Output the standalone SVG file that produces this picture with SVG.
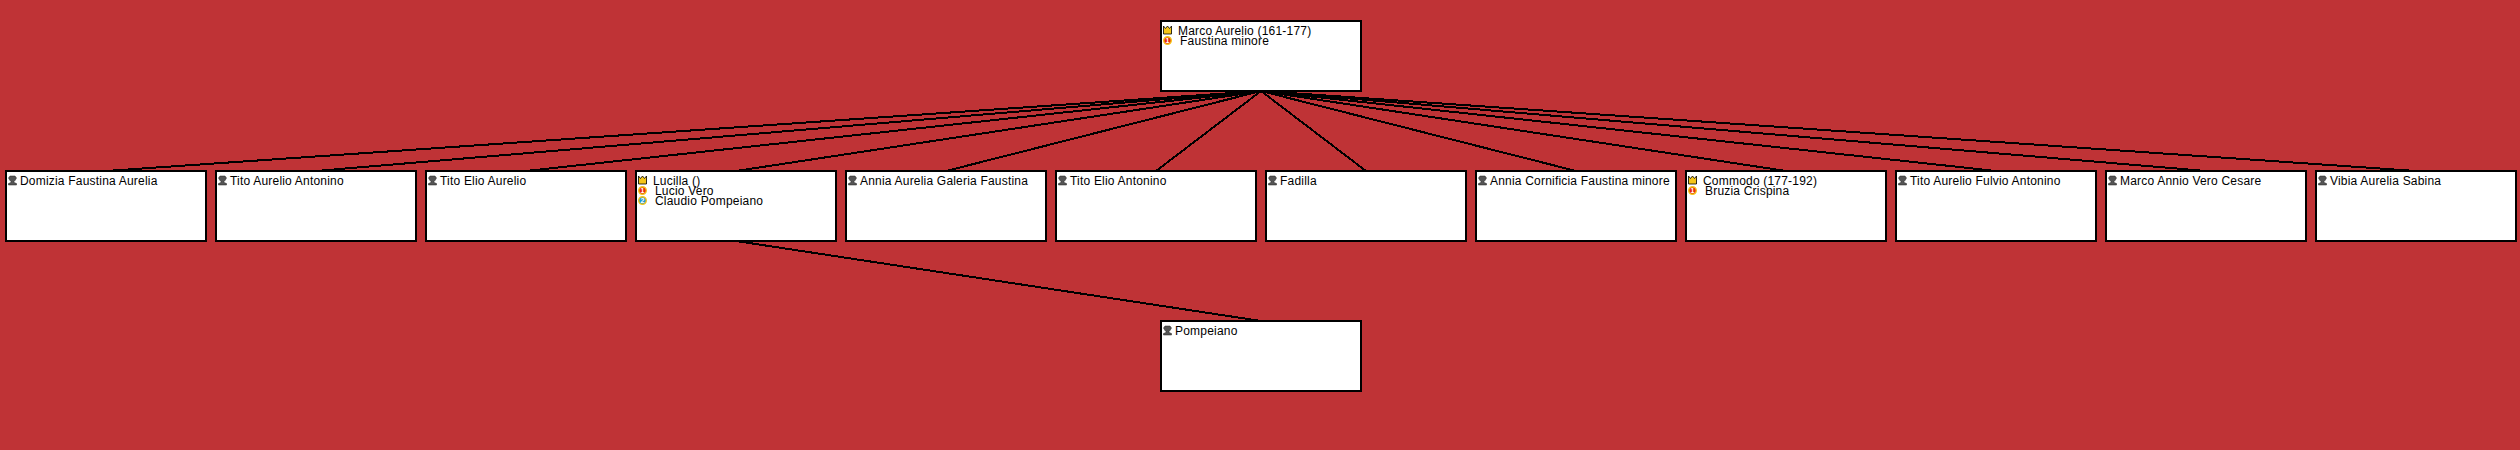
<svg xmlns="http://www.w3.org/2000/svg" xmlns:xlink="http://www.w3.org/1999/xlink" width="2520" height="450" viewBox="0 0 2520 450">
<style>
.box{fill:#fff;stroke:#000;stroke-width:2;shape-rendering:crispEdges}
.t{font-family:"Liberation Sans",Arial,sans-serif;font-size:12px;letter-spacing:.2px;fill:#000}
.n{font-family:"Liberation Sans",Arial,sans-serif;font-size:7px;font-weight:bold;fill:#fff;text-anchor:middle}
.c line{stroke:#000;stroke-width:2;shape-rendering:crispEdges}
</style>
<defs>
<g id="bust"><path d="M-2.500-4.500H2.500L4-2.500 2.500 0 1.500 1V2L4 3V4.500H-4V3L-1.500 2V1L-2.500 0-4-2.500Z" fill="#555" stroke="#222" stroke-width=".5"/></g>
<g id="crown"><path d="M-4-4-2-1.500 0-4 2-1.500 4-4V4H-4Z" fill="#f5c518" stroke="#000" stroke-width=".8"/></g>
<g id="b1"><circle r="3.800" fill="#e82a10" stroke="#f5c518" stroke-width="1.400"/></g>
<g id="b2"><circle r="3.800" fill="#1f9ad6" stroke="#f5c518" stroke-width="1.400"/></g>
</defs>
<rect width="2520" height="450" fill="#BF3336"/>
<g id="connectors" class="c">
<line x1="1261" y1="91" x2="106" y2="171"/>
<line x1="1261" y1="91" x2="316" y2="171"/>
<line x1="1261" y1="91" x2="526" y2="171"/>
<line x1="1261" y1="91" x2="736" y2="171"/>
<line x1="1261" y1="91" x2="946" y2="171"/>
<line x1="1261" y1="91" x2="1156" y2="171"/>
<line x1="1261" y1="91" x2="1366" y2="171"/>
<line x1="1261" y1="91" x2="1576" y2="171"/>
<line x1="1261" y1="91" x2="1786" y2="171"/>
<line x1="1261" y1="91" x2="1996" y2="171"/>
<line x1="1261" y1="91" x2="2206" y2="171"/>
<line x1="1261" y1="91" x2="2416" y2="171"/>
<line x1="736" y1="241" x2="1261" y2="321"/>
</g>
<g id="n0"><rect class="box" x="1161" y="21" width="200" height="70"/><use xlink:href="#crown" x="1167.500" y="30"/><text class="t" x="1178" y="35">Marco Aurelio (161-177)</text><use xlink:href="#b1" x="1167.500" y="40.500"/><text class="n" x="1167.500" y="43">1</text><text class="t" x="1180" y="45">Faustina minore</text></g>
<g id="n1"><rect class="box" x="6" y="171" width="200" height="70"/><use xlink:href="#bust" x="12.500" y="180.500"/><text class="t" x="20" y="185">Domizia Faustina Aurelia</text></g>
<g id="n2"><rect class="box" x="216" y="171" width="200" height="70"/><use xlink:href="#bust" x="222.500" y="180.500"/><text class="t" x="230" y="185">Tito Aurelio Antonino</text></g>
<g id="n3"><rect class="box" x="426" y="171" width="200" height="70"/><use xlink:href="#bust" x="432.500" y="180.500"/><text class="t" x="440" y="185">Tito Elio Aurelio</text></g>
<g id="n4"><rect class="box" x="636" y="171" width="200" height="70"/><use xlink:href="#crown" x="642.500" y="180"/><text class="t" x="653" y="185">Lucilla ()</text><use xlink:href="#b1" x="642.500" y="190.500"/><text class="n" x="642.500" y="193">1</text><text class="t" x="655" y="195">Lucio Vero</text><use xlink:href="#b2" x="642.500" y="200.500"/><text class="n" x="642.500" y="203">2</text><text class="t" x="655" y="205">Claudio Pompeiano</text></g>
<g id="n5"><rect class="box" x="846" y="171" width="200" height="70"/><use xlink:href="#bust" x="852.500" y="180.500"/><text class="t" x="860" y="185">Annia Aurelia Galeria Faustina</text></g>
<g id="n6"><rect class="box" x="1056" y="171" width="200" height="70"/><use xlink:href="#bust" x="1062.500" y="180.500"/><text class="t" x="1070" y="185">Tito Elio Antonino</text></g>
<g id="n7"><rect class="box" x="1266" y="171" width="200" height="70"/><use xlink:href="#bust" x="1272.500" y="180.500"/><text class="t" x="1280" y="185">Fadilla</text></g>
<g id="n8"><rect class="box" x="1476" y="171" width="200" height="70"/><use xlink:href="#bust" x="1482.500" y="180.500"/><text class="t" x="1490" y="185">Annia Cornificia Faustina minore</text></g>
<g id="n9"><rect class="box" x="1686" y="171" width="200" height="70"/><use xlink:href="#crown" x="1692.500" y="180"/><text class="t" x="1703" y="185">Commodo (177-192)</text><use xlink:href="#b1" x="1692.500" y="190.500"/><text class="n" x="1692.500" y="193">1</text><text class="t" x="1705" y="195">Bruzia Crispina</text></g>
<g id="n10"><rect class="box" x="1896" y="171" width="200" height="70"/><use xlink:href="#bust" x="1902.500" y="180.500"/><text class="t" x="1910" y="185">Tito Aurelio Fulvio Antonino</text></g>
<g id="n11"><rect class="box" x="2106" y="171" width="200" height="70"/><use xlink:href="#bust" x="2112.500" y="180.500"/><text class="t" x="2120" y="185">Marco Annio Vero Cesare</text></g>
<g id="n12"><rect class="box" x="2316" y="171" width="200" height="70"/><use xlink:href="#bust" x="2322.500" y="180.500"/><text class="t" x="2330" y="185">Vibia Aurelia Sabina</text></g>
<g id="n13"><rect class="box" x="1161" y="321" width="200" height="70"/><use xlink:href="#bust" x="1167.500" y="330.500"/><text class="t" x="1175" y="335">Pompeiano</text></g>
</svg>
